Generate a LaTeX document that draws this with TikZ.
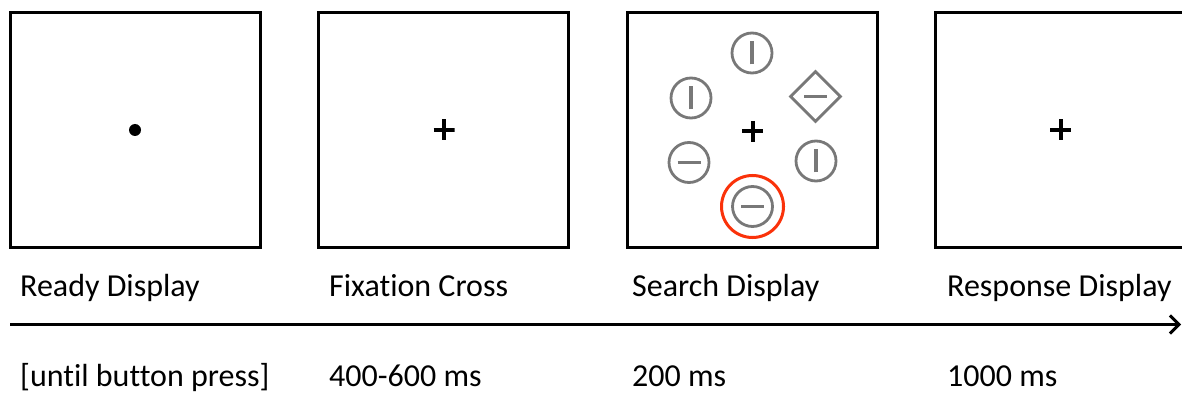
\documentclass[tikz,border=0pt]{standalone}
\usepackage{fontspec}
\setmainfont{Carlito}[Ligatures=NoCommon]
\usetikzlibrary{arrows.meta,positioning,shapes.geometric}
\definecolor{itemgray}{RGB}{120,120,120}
\definecolor{targetred}{RGB}{250,50,10}

\begin{document}
\begin{tikzpicture}[
  x=1pt, y=1pt,
  font=\fontsize{32}{38}\selectfont,
  screen/.style={draw, line width=3pt, minimum width=250pt, minimum height=234pt, inner sep=0pt, outer sep=0pt},
  caption/.style={anchor=base west, inner sep=0pt},
  fixcross/.style={minimum size=21pt, inner sep=0pt, path picture={
    \draw[line width=4pt] (path picture bounding box.west) -- (path picture bounding box.east)
      (path picture bounding box.north) -- (path picture bounding box.south);}},
  item/.style={circle, draw=itemgray, line width=2.8pt, minimum size=40pt, inner sep=0pt},
  vbar/.style={path picture={
    \draw[itemgray, line width=3.6pt] ([yshift=-11.5pt]path picture bounding box.center) -- ++(0,23pt);}},
  hbar/.style={path picture={
    \draw[itemgray, line width=3.6pt] ([xshift=-11.5pt]path picture bounding box.center) -- ++(23pt,0);}},
  flow/.style={-{Straight Barb[length=9pt, width=18pt, line width=3pt]}, line width=3pt},
]
  \useasboundingbox (0,0) rectangle (1182,394);

  \node[screen] (ready) at (135,264) {};
  \node[screen, right=58.5pt of ready] (fixation) {};
  \node[screen, right=58.5pt of fixation] (search) {};
  \node[screen, right=58.5pt of search] (response) {};

  \node[circle, fill, minimum size=12pt, inner sep=0pt] (dot) at (ready) {};
  \node[fixcross] (cross1) at ([xshift=0.5pt]fixation.center) {};
  \node[fixcross] (cross2) at ([xshift=0.5pt, yshift=-1.5pt]search.center) {};
  \node[fixcross] (cross3) at (response.center) {};

  \node[item, vbar] (top) at ([yshift=77pt]search.center) {};
  \node[item, vbar] (upleft) at ([xshift=-61pt, yshift=32pt]search.center) {};
  \node[diamond, aspect=1, draw=itemgray, line width=2.8pt, minimum size=51pt, inner sep=0pt, hbar]
    (odd) at ([xshift=63.5pt, yshift=33.5pt]search.center) {};
  \node[item, hbar] (lowleft) at ([xshift=-63pt, yshift=-32.5pt]search.center) {};
  \node[item, vbar] (lowright) at ([xshift=64pt, yshift=-31pt]search.center) {};
  \node[item, hbar] (target) at ([xshift=0.5pt, yshift=-76.5pt]search.center) {};
  \node[circle, draw=targetred, line width=3pt, minimum size=62pt, inner sep=0pt] (ring) at (target) {};

  \node[caption] (readylbl) at (20,98) {Ready Display};
  \node[caption] (fixlbl) at (329,98) {Fixation Cross};
  \node[caption] (searchlbl) at (632,98) {Search Display};
  \node[caption] (resplbl) at (947,98) {Response Display};

  \coordinate (tstart) at (10,69.5);
  \coordinate (tend) at (1181,69.5);
  \draw[flow] (tstart) -- (tend);

  \node[caption] (readytime) at (20,8) {[until button press]};
  \node[caption] (fixtime) at (329,8) {400-600 ms};
  \node[caption] (searchtime) at (632,8) {200 ms};
  \node[caption] (resptime) at (947,8) {1000 ms};
\end{tikzpicture}
\end{document}
